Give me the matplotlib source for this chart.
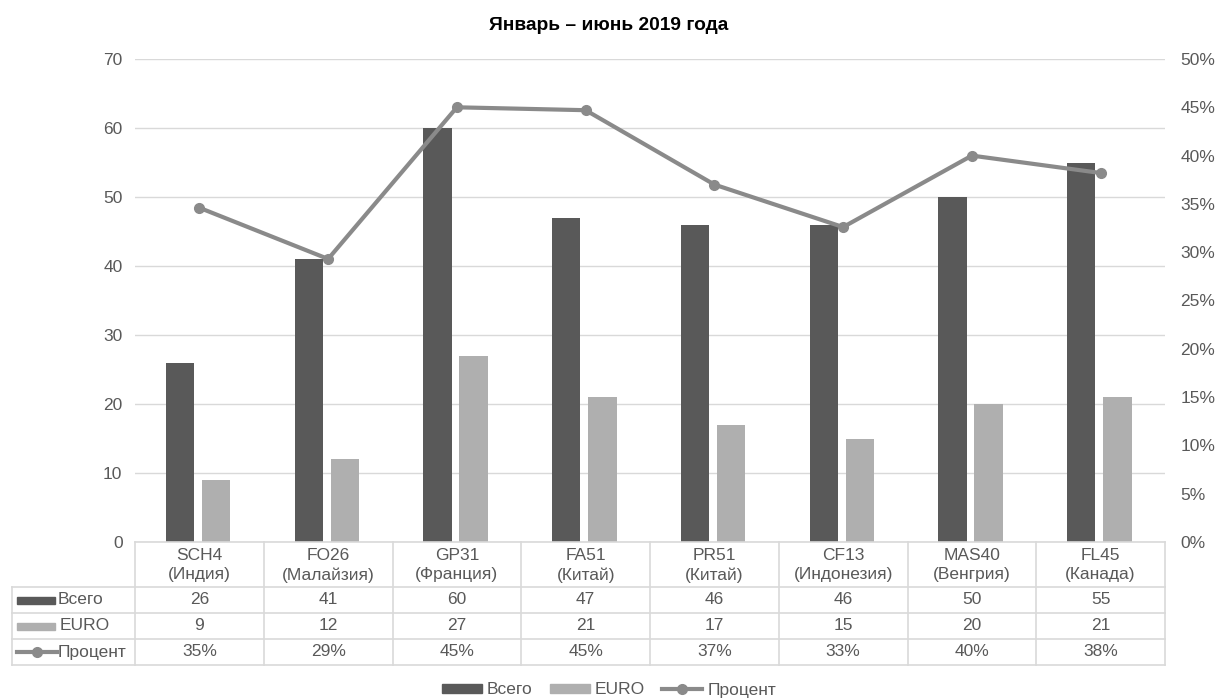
import numpy as np
import matplotlib.pyplot as plt
from matplotlib.lines import Line2D
from matplotlib.patches import Rectangle

plt.rcParams['font.family'] = ['Liberation Sans', 'DejaVu Sans']

# data
codes = ['SCH4', 'FO26', 'GP31', 'FA51', 'PR51', 'CF13', 'MAS40', 'FL45']
countries = ['(Индия)', '(Малайзия)', '(Франция)', '(Китай)', '(Китай)',
             '(Индонезия)', '(Венгрия)', '(Канада)']
total = [26, 41, 60, 47, 46, 46, 50, 55]
euro = [9, 12, 27, 21, 17, 15, 20, 21]
percent = [34.6, 29.3, 45.0, 44.7, 37.0, 32.6, 40.0, 38.2]

c_dark = '#595959'
c_light = '#afafaf'
c_line = '#8a8a8a'
c_grid = '#d9d9d9'
c_text = '#595959'
fs = 12.5

W, H = 1218, 700
fig = plt.figure(figsize=(W / 100, H / 100), dpi=100)

# plot area in pixels
x0, x1 = 135, 1165
y_top, y_bot = 59, 542
ax = fig.add_axes([x0 / W, 1 - y_bot / H, (x1 - x0) / W, (y_bot - y_top) / H])
ax2 = ax.twinx()

x = np.arange(len(codes))
bw = 0.22
ax.bar(x - 0.15, total, bw, color=c_dark, zorder=2)
ax.bar(x + 0.13, euro, bw, color=c_light, zorder=2)
ax.set_xlim(-0.5, len(codes) - 0.5)
ax.set_ylim(0, 70)
ax.set_yticks(range(0, 71, 10))
ax.yaxis.grid(True, color=c_grid, lw=1)
ax.set_axisbelow(True)
ax.set_xticks([])

ax2.plot(x, percent, color=c_line, lw=3, marker='o', ms=7, zorder=3)
ax2.set_ylim(0, 50)
ax2.set_yticks(range(0, 51, 5))
ax2.set_yticklabels([f'{v}%' for v in range(0, 51, 5)])

for a in (ax, ax2):
    for s in a.spines.values():
        s.set_visible(False)
    a.tick_params(length=0, labelsize=fs, colors=c_text)
ax.tick_params(axis='y', pad=9)
ax2.tick_params(axis='y', pad=11)

fig.text(0.5, 1 - 26 / H, 'Январь – июнь 2019 года', ha='center', va='center',
         fontsize=13.8, fontweight='bold', color='black')

# data table drawn in figure pixels
tr = fig.transFigure
def px(xp, yp):
    return xp / W, 1 - yp / H

def hline(xa, xb, yp):
    fig.add_artist(Line2D([xa / W, xb / W], [1 - yp / H] * 2, transform=tr,
                          color=c_grid, lw=1.2))

def vline(xp, ya, yb):
    fig.add_artist(Line2D([xp / W] * 2, [1 - ya / H, 1 - yb / H], transform=tr,
                          color=c_grid, lw=1.2))

rows_y = [542, 587, 613, 639, 665]
lab_x = 12
colw = (x1 - x0) / len(codes)
hline(x0, x1, rows_y[0])
for yp in rows_y[1:]:
    hline(lab_x, x1, yp)
for i in range(len(codes) + 1):
    vline(x0 + i * colw, rows_y[0], rows_y[-1])
vline(lab_x, rows_y[1], rows_y[-1])

for i in range(len(codes)):
    cx = x0 + (i + 0.5) * colw
    fig.text(*px(cx, 555), codes[i], ha='center', va='center', fontsize=fs, color=c_text)
    fig.text(*px(cx, 575), countries[i], ha='center', va='center', fontsize=fs, color=c_text)
    fig.text(*px(cx, 600), str(total[i]), ha='center', va='center', fontsize=fs, color=c_text)
    fig.text(*px(cx, 626), str(euro[i]), ha='center', va='center', fontsize=fs, color=c_text)
    fig.text(*px(cx, 652), f'{round(percent[i])}%', ha='center', va='center',
             fontsize=fs, color=c_text)

# row headers with legend keys
fig.add_artist(Rectangle(px(17, 604), 38 / W, 7 / H, transform=tr, color=c_dark))
fig.text(*px(58, 600), 'Всего', ha='left', va='center', fontsize=fs, color=c_text)
fig.add_artist(Rectangle(px(17, 630), 38 / W, 7 / H, transform=tr, color=c_light))
fig.text(*px(60, 626), 'EURO', ha='left', va='center', fontsize=fs, color=c_text)
fig.add_artist(Line2D([17 / W, 57 / W], [1 - 652 / H] * 2, transform=tr, color=c_line, lw=3))
fig.add_artist(Line2D([37 / W], [1 - 652 / H], transform=tr, color=c_line,
                      marker='o', ms=7))
fig.text(*px(58, 652), 'Процент', ha='left', va='center', fontsize=fs, color=c_text)

# bottom legend
handles = [Rectangle((0, 0), 1, 1, color=c_dark),
           Rectangle((0, 0), 1, 1, color=c_light),
           Line2D([], [], color=c_line, lw=3, marker='o', ms=7)]
fig.legend(handles, ['Всего', 'EURO', 'Процент'], loc='center',
           bbox_to_anchor=(0.5, 1 - 690 / H), ncol=3, frameon=False,
           fontsize=fs, labelcolor=c_text, handlelength=2.3, handleheight=0.4,
           handletextpad=0.3, columnspacing=1.0)

fig.savefig('out.png', dpi=100)
